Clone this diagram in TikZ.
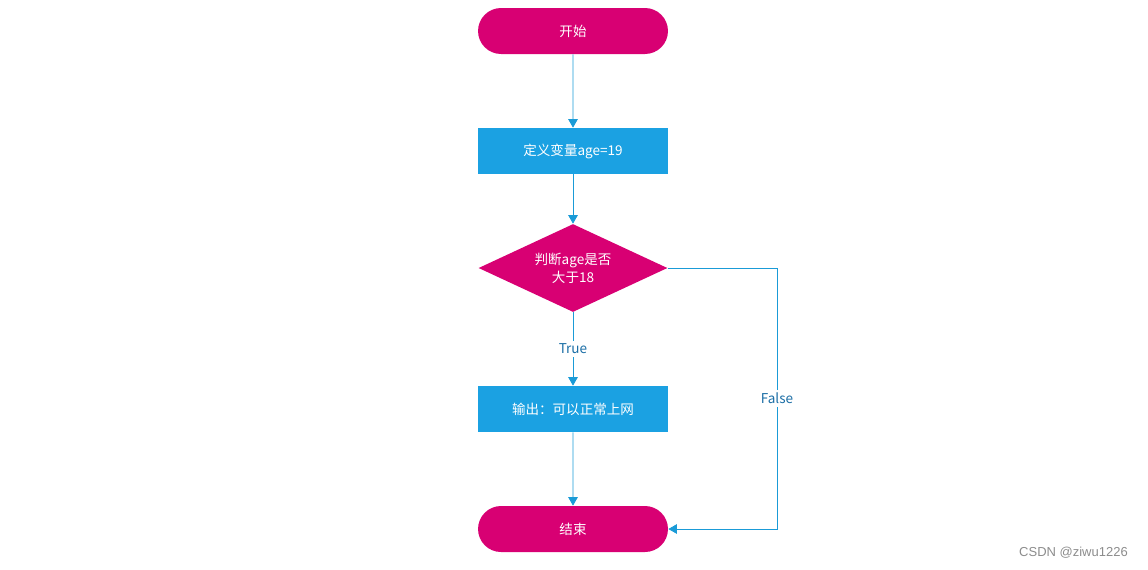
\documentclass[tikz,border=0pt]{standalone}
\usepackage{fontspec}
\setmainfont{Noto Sans CJK SC}
\newfontfamily\wmfont{Liberation Sans}
\usepackage{tikz}
\usetikzlibrary{shapes,arrows.meta,positioning,calc}

\definecolor{termred}{HTML}{D80073}
\definecolor{procblue}{HTML}{1BA1E2}
\definecolor{linkblue}{HTML}{1A9BD7}
\definecolor{lbltext}{HTML}{1B6EA6}

\tikzset{
    terminal/.style={rounded rectangle, fill=termred, text=white, minimum width=3.8cm, minimum height=0.92cm, inner sep=0pt},
    process/.style={rectangle, fill=procblue, text=white, minimum width=3.8cm, minimum height=0.92cm, inner sep=0pt},
    decision/.style={diamond, fill=termred, text=white, minimum width=3.78cm, minimum height=1.76cm, aspect=2.15, inner sep=0pt, align=center},
    flow/.style={draw=linkblue, line width=0.5pt, -{Triangle[width=0.19cm,length=0.17cm]}},
    lbl/.style={fill=white, text=lbltext, inner sep=1.5pt}
}

\begin{document}
\begin{tikzpicture}[x=0.02cm, y=-0.02cm, font=\fontsize{7.7}{10.2}\selectfont]
    \useasboundingbox (0,0) rectangle (1148,569);

    % Nodes
    \node[terminal] (start) at (573,31) {开始};
    \node[process] (setage) at (573,151) {定义变量age=19};
    \node[decision] (check) at (573,268) {判断age是否\\大于18};
    \node[process] (output) at (573,409) {输出：可以正常上网};
    \node[terminal] (stop) at (573,529) {结束};

    % False branch corners
    \coordinate (fTop) at (777,268);
    \coordinate (fBot) at (777,529);

    % Connectors
    \draw[flow] (start) -- (setage);
    \draw[flow] (setage) -- (check);
    \draw[flow] (check) -- node[lbl] {True} (output);
    \draw[flow] (output) -- (stop);
    \draw[flow] (check.east) -- (fTop) -- node[lbl] {False} (fBot) -- (stop.east);

    % Watermark
    \node[anchor=east, text=black!45, font=\wmfont\fontsize{7.4}{8}\selectfont] (mark) at (1134,553) {CSDN @ziwu1226};
\end{tikzpicture}
\end{document}
